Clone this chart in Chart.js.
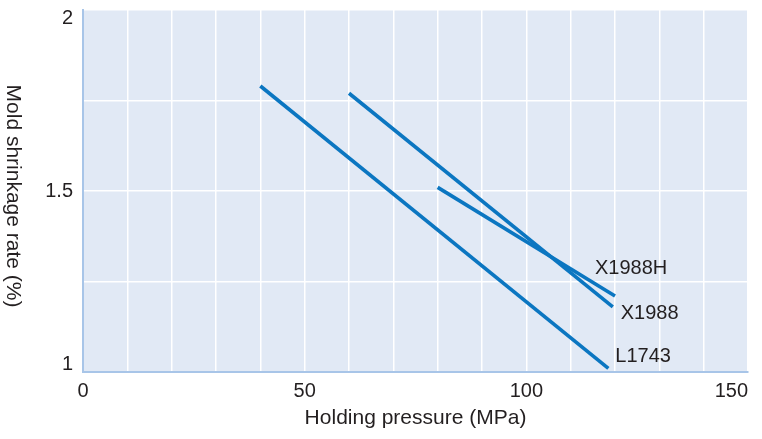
<!DOCTYPE html>
<html>
<head>
<meta charset="utf-8">
<title>Mold shrinkage vs holding pressure</title>
<script src="https://cdn.jsdelivr.net/npm/chart.js@4.4.1/dist/chart.umd.min.js"></script>
<style>
  html, body { margin: 0; padding: 0; background: #fff; }
  #wrap { width: 762px; height: 439px; }
</style>
</head>
<body>
<div id="wrap"><canvas id="shrinkCanvas"></canvas></div>
<script>
// grade names
const seriesNames = ['X1988H', 'X1988', 'L1743'];

// holding pressure (MPa) / mold shrinkage rate (%) per grade
const pressureX1988H = [80, 120];
const shrinkX1988H = [1.51, 1.21];
const pressureX1988 = [60, 119.5];
const shrinkX1988 = [1.77, 1.18];
const pressureL1743 = [40, 118.5];
const shrinkL1743 = [1.79, 1.01];

// labelled ticks
const xTickLabels = [0, 50, 100, 150];
const yTickLabels = [1, 1.5, 2];

const lineColor = '#0b76c1';
const textColor = '#231f20';
const axisColor = '#a8c5e8';

Chart.defaults.font.family = '"Liberation Sans", Arial, sans-serif';
Chart.defaults.color = textColor;

const toPoints = (xs, ys) => xs.map((x, i) => ({ x: x, y: ys[i] }));

// where each grade name sits relative to the end of its line
const nameOffsets = {
    'X1988H': { dx: -20, dy: -27 },
    'X1988': { dx: 8, dy: 7 },
    'L1743': { dx: 7, dy: -12 }
};

const plotBackground = {
    id: 'plotBackground',
    beforeDraw(chart) {
        const { ctx, chartArea } = chart;
        ctx.save();
        ctx.fillStyle = '#e1e9f5';
        ctx.fillRect(chartArea.left, chartArea.top, chartArea.right - chartArea.left, chartArea.bottom - chartArea.top);
        ctx.restore();
    }
};

const lineNames = {
    id: 'lineNames',
    afterDatasetsDraw(chart) {
        const ctx = chart.ctx;
        ctx.save();
        ctx.font = '20px "Liberation Sans", Arial, sans-serif';
        ctx.fillStyle = textColor;
        ctx.textAlign = 'left';
        ctx.textBaseline = 'middle';
        chart.data.datasets.forEach((ds, i) => {
            const pts = chart.getDatasetMeta(i).data;
            const end = pts[pts.length - 1];
            const off = nameOffsets[ds.label];
            ctx.fillText(ds.label, end.x + off.dx, end.y + off.dy);
        });
        ctx.restore();
    }
};

// y title reads top to bottom
const yTitle = {
    id: 'yTitle',
    afterDraw(chart) {
        const { ctx, chartArea } = chart;
        ctx.save();
        ctx.translate(13, (chartArea.top + chartArea.bottom) / 2 + 5);
        ctx.rotate(Math.PI / 2);
        ctx.font = '21px "Liberation Sans", Arial, sans-serif';
        ctx.fillStyle = textColor;
        ctx.textAlign = 'center';
        ctx.textBaseline = 'middle';
        ctx.fillText('Mold shrinkage rate (%)', 0, 0);
        ctx.restore();
    }
};

const ctx = document.getElementById('shrinkCanvas').getContext('2d');

new Chart(ctx, {
    type: 'line',
    data: {
        datasets: [
            { label: seriesNames[0], data: toPoints(pressureX1988H, shrinkX1988H) },
            { label: seriesNames[1], data: toPoints(pressureX1988, shrinkX1988) },
            { label: seriesNames[2], data: toPoints(pressureL1743, shrinkL1743) }
        ].map(ds => Object.assign(ds, {
            borderColor: lineColor,
            borderWidth: 3.6,
            borderCapStyle: 'butt',
            pointRadius: 0,
            tension: 0,
            fill: false
        }))
    },
    options: {
        responsive: true,
        maintainAspectRatio: false,
        animation: false,
        layout: { padding: { top: 10, right: 14, bottom: 0, left: 0 } },
        plugins: {
            legend: { display: false },
            tooltip: { enabled: false }
        },
        scales: {
            x: {
                type: 'linear',
                min: 0,
                max: 150,
                grid: { color: '#ffffff', lineWidth: 1.5, drawTicks: false },
                border: { color: axisColor, width: 2, z: 1 },
                ticks: {
                    stepSize: 10,
                    autoSkip: false,
                    maxRotation: 0,
                    align: 'inner',
                    padding: 7,
                    font: { size: 20 },
                    callback: (value, index) => index === 0 ? '' : (xTickLabels.includes(value) ? String(value) : '')
                },
                title: {
                    display: true,
                    text: 'Holding pressure (MPa)',
                    font: { size: 21 },
                    padding: { top: 0, bottom: 8 }
                },
                // blank lead tick so "0" stays centred while "150" sits inside
                afterBuildTicks: (scale) => { scale.ticks.unshift({ value: scale.min }); },
                afterFit: (scale) => {
                    scale.height = 67;
                    scale.paddingLeft = 0;
                    scale.paddingRight = 0;
                }
            },
            y: {
                type: 'linear',
                min: 1,
                max: 2,
                grid: { color: '#ffffff', lineWidth: 1.5, drawTicks: false },
                border: { color: axisColor, width: 2, z: 1 },
                ticks: {
                    stepSize: 0.25,
                    autoSkip: false,
                    padding: 10,
                    font: { size: 20, lineHeight: 0.8 },
                    callback: (value) => {
                        if (value === 2) return ['', '2'];
                        if (value === 1) return ['1', ''];
                        return yTickLabels.includes(value) ? String(value) : '';
                    }
                },
                afterFit: (scale) => {
                    scale.width = 83;
                    scale.paddingTop = 0;
                    scale.paddingBottom = 0;
                }
            }
        }
    },
    plugins: [plotBackground, lineNames, yTitle]
});
</script>
</body>
</html>
